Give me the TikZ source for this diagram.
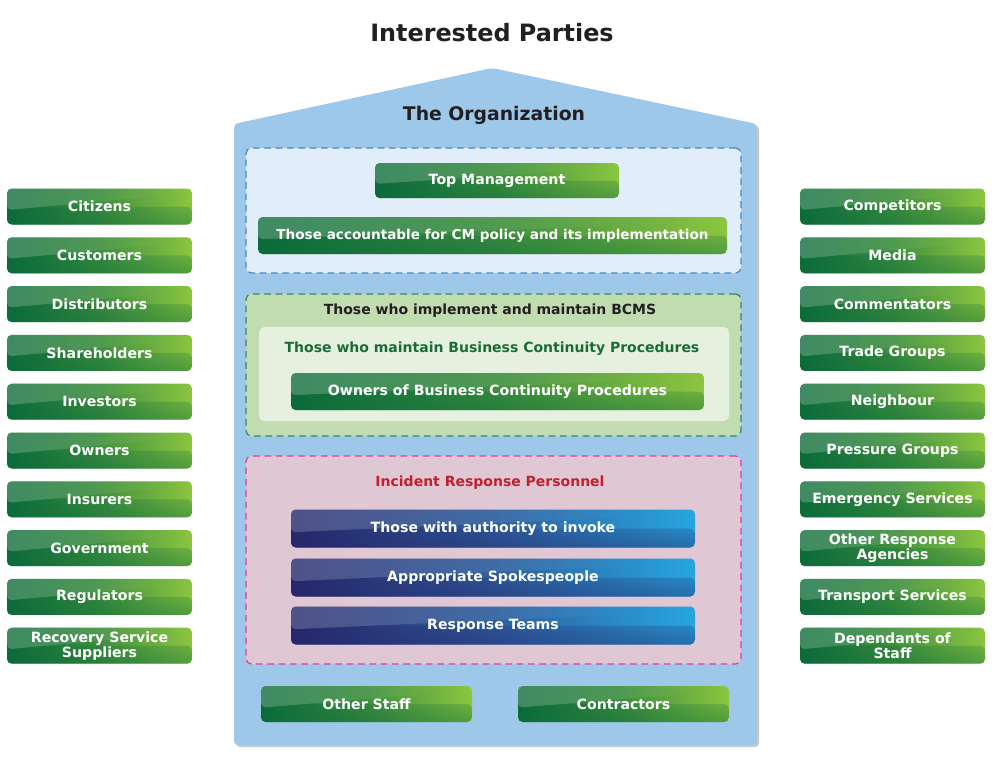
\documentclass[tikz,border=0pt]{standalone}
\usepackage{fontspec}
\setmainfont{DejaVu Sans}
\usetikzlibrary{fadings,calc}
\definecolor{housec}{HTML}{9DC8EA}
\definecolor{gdark}{HTML}{0B6B3A}
\definecolor{gmid}{HTML}{3E8F3F}
\definecolor{glight}{HTML}{8CC540}
\definecolor{bdark}{HTML}{26286B}
\definecolor{bmid}{HTML}{2E5E9E}
\definecolor{blight}{HTML}{27A6E0}
\definecolor{boxA}{HTML}{E1EDF8}
\definecolor{boxAb}{HTML}{3F8AD0}
\definecolor{boxB}{HTML}{C2DCB2}
\definecolor{boxBb}{HTML}{2F8A62}
\definecolor{boxBin}{HTML}{E5F0DE}
\definecolor{boxC}{HTML}{DFC8D4}
\definecolor{boxCb}{HTML}{E23CAA}
\definecolor{titlec}{HTML}{231F20}
\definecolor{greentxt}{HTML}{1A6B3A}
\definecolor{redtxt}{HTML}{C1202F}
\begin{document}
\begin{tikzpicture}[x=0.75pt,y=-0.75pt,
  wh/.style 2 args={minimum width=#1*0.75pt, minimum height=#2*0.75pt},
  btnbase/.style={rounded corners=3.5pt, inner sep=0pt, text=white, align=center,
    font=\bfseries\fontsize{10.6}{11.2}\selectfont},
  gbtn/.style={btnbase, left color=gdark, right color=glight, middle color=gmid,
    path picture={
      \fill[gdark,opacity=0.45,path fading=north]
        ($(path picture bounding box.south west)!0.5!(path picture bounding box.north west)$)
        rectangle (path picture bounding box.south east);
      \fill[white,opacity=0.22,path fading=east]
        (path picture bounding box.north west) --
        ($(path picture bounding box.north west)!0.6!(path picture bounding box.south west)$) --
        ($(path picture bounding box.north east)!0.2!(path picture bounding box.north west)!0.2!(path picture bounding box.south east)$) --
        ($(path picture bounding box.north east)!0.12!(path picture bounding box.north west)$) -- cycle;
    }},
  bbtn/.style={btnbase, left color=bdark, right color=blight, middle color=bmid,
    path picture={
      \fill[bdark,opacity=0.45,path fading=north]
        ($(path picture bounding box.south west)!0.5!(path picture bounding box.north west)$)
        rectangle (path picture bounding box.south east);
      \fill[white,opacity=0.2,path fading=east]
        (path picture bounding box.north west) --
        ($(path picture bounding box.north west)!0.6!(path picture bounding box.south west)$) --
        ($(path picture bounding box.north east)!0.2!(path picture bounding box.north west)!0.2!(path picture bounding box.south east)$) --
        ($(path picture bounding box.north east)!0.12!(path picture bounding box.north west)$) -- cycle;
    }},
  dbox/.style={rounded corners=4pt, dash pattern=on 5pt off 3.5pt, line width=0.9pt, inner sep=0pt},
  lbl/.style={font=\bfseries\fontsize{10.5}{11.5}\selectfont, inner sep=0pt}
]
\useasboundingbox (0,0) rectangle (1000,768);
\fill[white] (0,0) rectangle (1000,768);

% title
\node[font=\bfseries\fontsize{17.9}{20}\selectfont, text=titlec] (title) at (492,33) {Interested Parties};

% house with shadow
\fill[black!40, opacity=0.55, rounded corners=3pt] (236,747) -- (236,126) -- (494,70) -- (759,126) -- (759,747) -- cycle;
\fill[housec, rounded corners=3pt] (234,745) -- (234,124) -- (492,68) -- (757,124) -- (757,745) -- cycle;
\node[font=\bfseries\fontsize{14.1}{16}\selectfont, text=titlec] (org) at (494,115) {The Organization};

% box 1
\node[dbox, draw=boxAb, fill=boxA, wh={495}{125}] (boxA) at (493.5,210.5) {};
\node[gbtn, wh={244}{35}] (top) at (497,180.5) {Top Management};
\node[gbtn, wh={469}{37}, font=\bfseries\fontsize{10.2}{11}\selectfont] (acc) at (492.5,235.5) {Those accountable for CM policy and its implementation};

% box 2
\node[dbox, draw=boxBb, fill=boxB, wh={495}{142}] (boxB) at (493.5,365) {};
\node[lbl, text=titlec] (bcms) at (490,310.5) {Those who implement and maintain BCMS};
\node[fill=boxBin, rounded corners=4pt, inner sep=0pt, wh={470}{94}] (inner) at (494,374) {};
\node[lbl, text=greentxt] (maint) at (492,348.5) {Those who maintain Business Continuity Procedures};
\node[gbtn, wh={413}{37}] (owners) at (497.5,391.5) {Owners of Business Continuity Procedures};

% box 3
\node[dbox, draw=boxCb, fill=boxC, wh={495}{208}] (boxC) at (493.5,560) {};
\node[lbl, text=redtxt] (irp) at (490,482.5) {Incident Response Personnel};
\node[bbtn, wh={404}{38}] (auth) at (493,528.5) {Those with authority to invoke};
\node[bbtn, wh={404}{38}] (spoke) at (493,577.5) {Appropriate Spokespeople};
\node[bbtn, wh={404}{38}] (teams) at (493,625.5) {Response Teams};

% bottom
\node[gbtn, wh={211}{36}] (staff) at (366.5,704) {Other Staff};
\node[gbtn, wh={211}{36}] (contr) at (623.5,704) {Contractors};

% left column
\foreach \t [count=\i from 0] in {Citizens,Customers,Distributors,Shareholders,Investors,Owners,Insurers,Government,Regulators,{Recovery Service\\Suppliers}}
  \node[gbtn, wh={185}{36}] (L\i) at (99.5,206.5+48.8*\i) {\t};

% right column
\foreach \t [count=\i from 0] in {Competitors,Media,Commentators,Trade Groups,Neighbour,Pressure Groups,Emergency Services,{Other Response\\Agencies},Transport Services,{Dependants of\\Staff}}
  \node[gbtn, wh={185}{36}] (R\i) at (892.5,206.5+48.8*\i) {\t};
\end{tikzpicture}
\end{document}
